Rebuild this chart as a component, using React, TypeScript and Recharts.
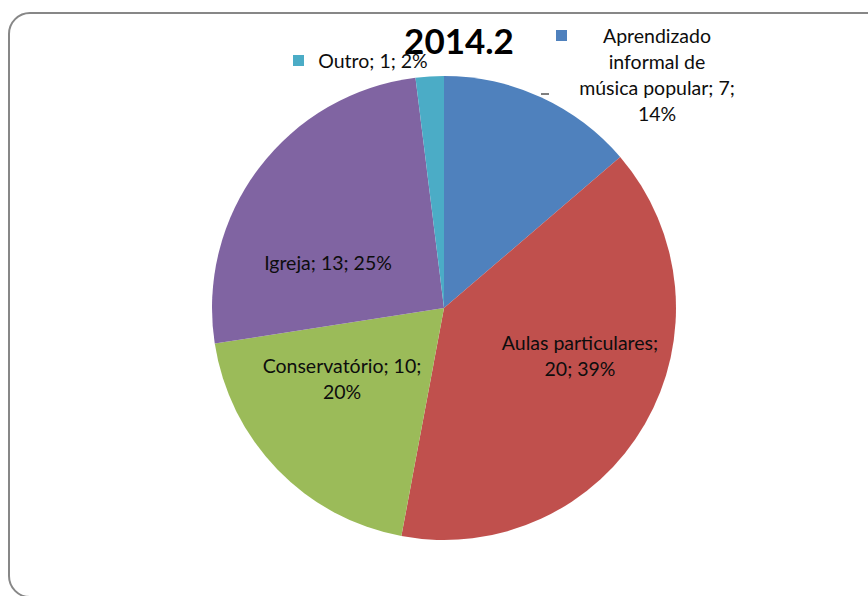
import React from 'react';
import { PieChart, Pie, Cell } from 'recharts';

const categories = [
  'Aprendizado informal de música popular',
  'Aulas particulares',
  'Conservatório',
  'Igreja',
  'Outro',
];
const counts = [7, 20, 10, 13, 1];
const title = '2014.2';

// words per line when a label wraps
const wrapWords = [[1, 2, 3, 1], [2, 2], [2, 1], [3], [3]];

const COLORS = ['#4F81BD', '#C0504D', '#9BBB59', '#8064A2', '#4BACC6'];
const FONT = 'Lato, "Open Sans", sans-serif';

// label block placement relative to the pie centre (text centre x, first line centre y)
const labelPos = [
  { dx: 213, dy: -273, key: true },
  { dx: 136, dy: 34, key: false },
  { dx: -102, dy: 57, key: false },
  { dx: -116, dy: -46, key: false },
  { dx: -74, dy: -248, key: true },
];

const data = categories.map((name, i) => ({ name, value: counts[i] }));

const splitLines = (text: string, pattern: number[]) => {
  const words = text.split(' ');
  const lines: string[] = [];
  let k = 0;
  pattern.forEach((n) => {
    lines.push(words.slice(k, k + n).join(' '));
    k += n;
  });
  return lines;
};

const renderLabel = (props: any) => {
  const { cx, cy, index, name, value, percent } = props;
  const pos = labelPos[index];
  const text = `${name}; ${value}; ${Math.round(percent * 100)}%`;
  const lines = splitLines(text, wrapWords[index]);
  const x = cx + pos.dx;
  const y = cy + pos.dy;
  const lineH = 26;
  const firstW = index === 0 ? 101 : 77;
  return (
    <g key={`lbl-${index}`}>
      {pos.key && (
        <rect x={x - firstW} y={y - 5} width={11} height={11} fill={COLORS[index]} />
      )}
      {index === 0 && <line x1={x - 116} x2={x - 108} y1={y + 59} y2={y + 59} stroke="#000" strokeWidth={1} />}
      {lines.map((ln, i) => (
        <text
          key={i}
          x={index === 4 ? x + 3 : x}
          y={y + i * lineH}
          textAnchor="middle"
          dominantBaseline="central"
          fontFamily={FONT}
          fontSize={19.5}
          fill="#0d0d0d"
        >
          {ln}
        </text>
      ))}
    </g>
  );
};

const App: React.FC = () => {
  return (
    <div style={{ position: 'absolute', left: 0, top: 0, width: 868, height: 596, overflow: 'hidden', background: '#fff' }}>
      <div
        style={{
          position: 'absolute',
          left: 8,
          top: 12,
          width: 880,
          height: 586,
          border: '2px solid #878787',
          borderRadius: 22,
          boxSizing: 'border-box',
        }}
      />
      <div
        style={{
          position: 'absolute',
          left: 359,
          top: 18,
          width: 200,
          textAlign: 'center',
          fontFamily: FONT,
          fontWeight: 700,
          fontSize: 35,
          lineHeight: '44px',
          color: '#000',
        }}
      >
        {title}
      </div>
      <div style={{ position: 'absolute', left: 0, top: 0 }}>
        <PieChart width={868} height={596} margin={{ top: 0, right: 0, bottom: 0, left: 0 }}>
          <Pie
            data={data}
            dataKey="value"
            nameKey="name"
            cx={444}
            cy={308}
            outerRadius={232}
            startAngle={90}
            endAngle={-270}
            stroke="none"
            label={renderLabel}
            labelLine={false}
            isAnimationActive={false}
          >
            {data.map((entry, index) => (
              <Cell key={`cell-${index}`} fill={COLORS[index % COLORS.length]} />
            ))}
          </Pie>
        </PieChart>
      </div>
    </div>
  );
};

export default App;
